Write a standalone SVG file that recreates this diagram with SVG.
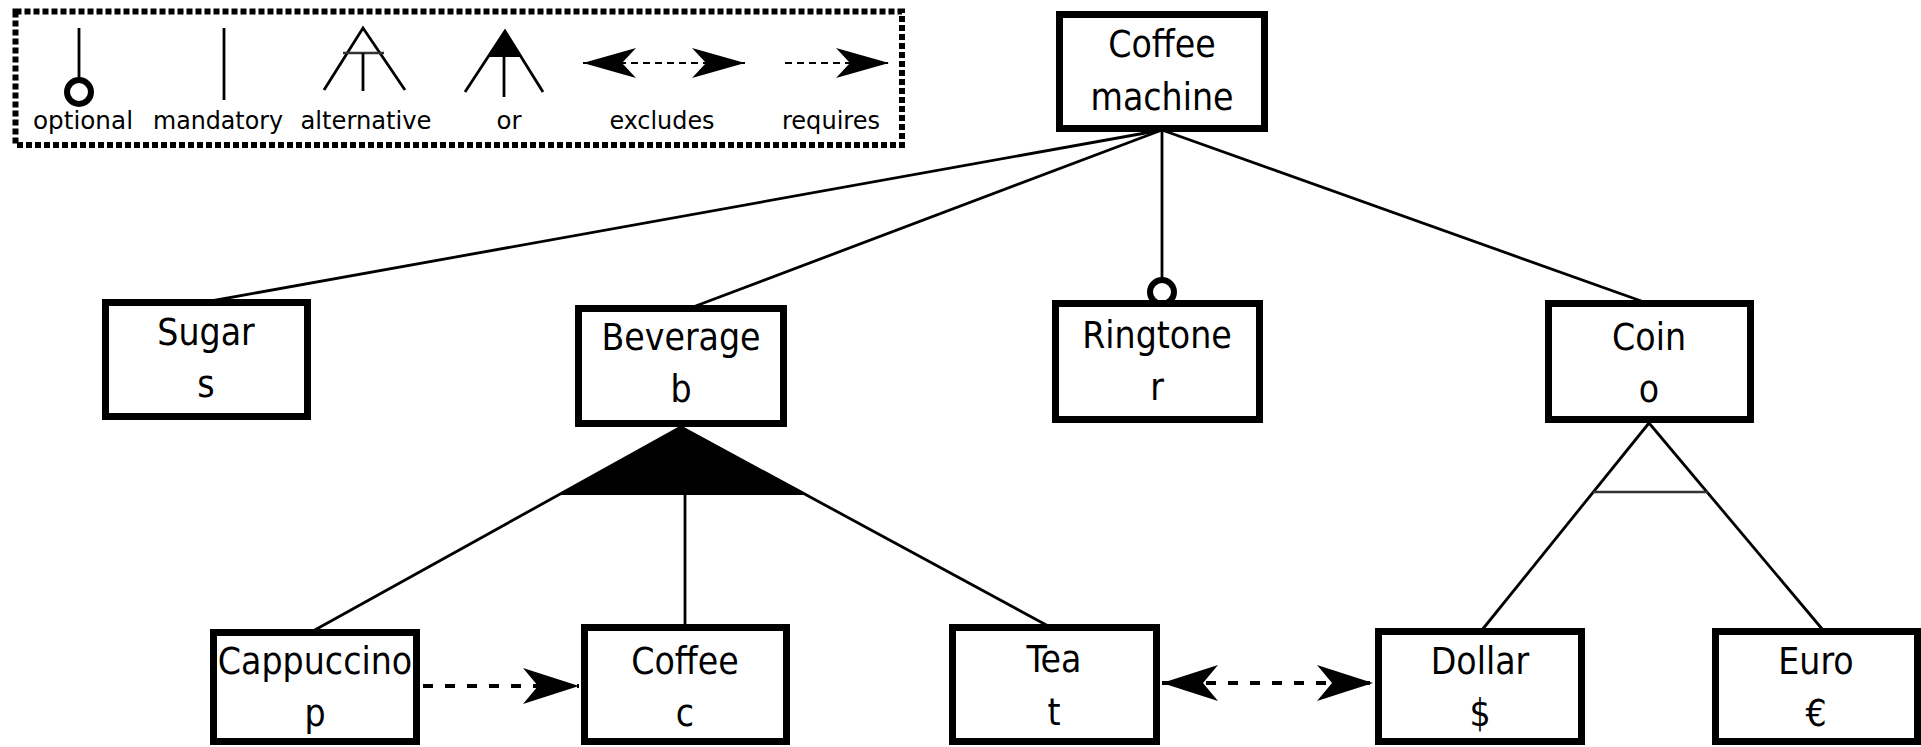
<svg xmlns="http://www.w3.org/2000/svg" width="1921" height="747" viewBox="0 0 1921 747">
<style>
.box{fill:#fff;stroke:#000;stroke-width:7}
.t{font-family:'DejaVu Sans Condensed','DejaVu Sans',sans-serif;font-stretch:condensed;font-size:37px;fill:#000;text-anchor:middle}
.lt{font-family:'DejaVu Sans Condensed','DejaVu Sans',sans-serif;font-stretch:condensed;font-size:24px;fill:#000;text-anchor:middle}
.ln{stroke:#000;stroke-width:2.8;fill:none}
.dash{stroke:#000;stroke-width:4;stroke-dasharray:10 12;fill:none}
.ldash{stroke:#000;stroke-width:2.2;stroke-dasharray:7 5;fill:none}
.ring{fill:#fff;stroke:#000;stroke-width:6}
</style>
<defs>
<marker id="ah" markerUnits="userSpaceOnUse" markerWidth="60" markerHeight="40" viewBox="-57 -20 60 40" refX="0" refY="0" orient="auto-start-reverse" overflow="visible">
<path d="M0,0 L-56,-18 L-41,0 L-56,18 Z" fill="#000"/>
</marker>
<marker id="ahs" markerUnits="userSpaceOnUse" markerWidth="60" markerHeight="40" viewBox="-57 -20 60 40" refX="0" refY="0" orient="auto-start-reverse" overflow="visible">
<path d="M0,0 L-53,-15 L-39,0 L-53,15 Z" fill="#000"/>
</marker>
</defs>
<rect width="1921" height="747" fill="#fff"/>

<g id="legend">
<rect x="15.5" y="11.5" width="886.5" height="133.5" fill="none" stroke="#000" stroke-width="6" stroke-dasharray="6 3"/>
<line class="ln" x1="79" y1="28" x2="79" y2="80"/>
<circle class="ring" cx="79" cy="92" r="12"/>
<text class="lt" x="83" y="129" textLength="100" lengthAdjust="spacingAndGlyphs">optional</text>
<line class="ln" x1="224" y1="28" x2="224" y2="100"/>
<text class="lt" x="218" y="129" textLength="130" lengthAdjust="spacingAndGlyphs">mandatory</text>
<polyline class="ln" points="324,90 363,28 405,90"/>
<line x1="343" y1="53" x2="384" y2="53" stroke="#333" stroke-width="2.5"/>
<line class="ln" x1="363" y1="53" x2="363" y2="91"/>
<text class="lt" x="366" y="129" textLength="131" lengthAdjust="spacingAndGlyphs">alternative</text>
<polyline class="ln" points="465,92 505,31 543,92"/>
<polygon points="505,31 488,57 522,57" fill="#000"/>
<line class="ln" x1="504" y1="57" x2="504" y2="97"/>
<text class="lt" x="509" y="129" textLength="25" lengthAdjust="spacingAndGlyphs">or</text>
<line class="ldash" x1="583" y1="63" x2="745" y2="63" marker-start="url(#ahs)" marker-end="url(#ahs)"/>
<text class="lt" x="662" y="129" textLength="105" lengthAdjust="spacingAndGlyphs">excludes</text>
<line class="ldash" x1="785" y1="63" x2="889" y2="63" marker-end="url(#ahs)"/>
<text class="lt" x="831" y="129" textLength="98" lengthAdjust="spacingAndGlyphs">requires</text>
</g>

<g id="connectors">
<line class="ln" x1="1162" y1="130" x2="211" y2="301"/>
<line class="ln" x1="1162" y1="130" x2="693" y2="307"/>
<line class="ln" x1="1162" y1="130" x2="1162" y2="280"/>
<circle class="ring" cx="1162" cy="292" r="12"/>
<line class="ln" x1="1162" y1="130" x2="1644" y2="302"/>
<polygon points="681,427 557,495 809,495" fill="#000"/>
<line class="ln" x1="681" y1="427" x2="313" y2="631"/>
<line class="ln" x1="681" y1="427" x2="1050" y2="627"/>
<line class="ln" x1="685" y1="495" x2="685" y2="626"/>
<line class="ln" x1="1649" y1="423" x2="1482" y2="630"/>
<line class="ln" x1="1649" y1="423" x2="1823" y2="630"/>
<line x1="1593" y1="492" x2="1708" y2="492" stroke="#333" stroke-width="2.5"/>
<line class="dash" x1="423" y1="686" x2="579" y2="686" marker-end="url(#ah)"/>
<line class="dash" x1="1162" y1="683" x2="1373" y2="683" marker-start="url(#ah)" marker-end="url(#ah)"/>
</g>

<g id="node-coffee-machine">
<rect class="box" x="1059.5" y="14.5" width="205" height="114"/>
<text class="t" x="1162" y="57">Coffee</text>
<text class="t" x="1162" y="110">machine</text>
</g>
<g id="node-sugar">
<rect class="box" x="105.5" y="302.5" width="202" height="114"/>
<text class="t" x="206" y="345">Sugar</text>
<text class="t" x="206" y="397">s</text>
</g>
<g id="node-beverage">
<rect class="box" x="578.5" y="308.5" width="205" height="115"/>
<text class="t" x="681" y="350">Beverage</text>
<text class="t" x="681" y="402">b</text>
</g>
<g id="node-ringtone">
<rect class="box" x="1055.5" y="303.5" width="204" height="116"/>
<text class="t" x="1157" y="348">Ringtone</text>
<text class="t" x="1157" y="400">r</text>
</g>
<g id="node-coin">
<rect class="box" x="1548.5" y="303.5" width="202" height="116"/>
<text class="t" x="1649" y="350">Coin</text>
<text class="t" x="1649" y="402">o</text>
</g>
<g id="node-cappuccino">
<rect class="box" x="213.5" y="632.5" width="203" height="109"/>
<text class="t" x="315" y="674">Cappuccino</text>
<text class="t" x="315" y="726">p</text>
</g>
<g id="node-coffee">
<rect class="box" x="584.5" y="627.5" width="202" height="114"/>
<text class="t" x="685" y="674">Coffee</text>
<text class="t" x="685" y="726">c</text>
</g>
<g id="node-tea">
<rect class="box" x="952.5" y="627.5" width="204" height="114"/>
<text class="t" x="1054" y="672">Tea</text>
<text class="t" x="1054" y="725">t</text>
</g>
<g id="node-dollar">
<rect class="box" x="1378.5" y="631.5" width="203" height="110"/>
<text class="t" x="1480" y="674">Dollar</text>
<text class="t" x="1480" y="726">$</text>
</g>
<g id="node-euro">
<rect class="box" x="1715.5" y="631.5" width="202" height="110"/>
<text class="t" x="1816" y="674">Euro</text>
<text class="t" x="1816" y="726">€</text>
</g>
</svg>
